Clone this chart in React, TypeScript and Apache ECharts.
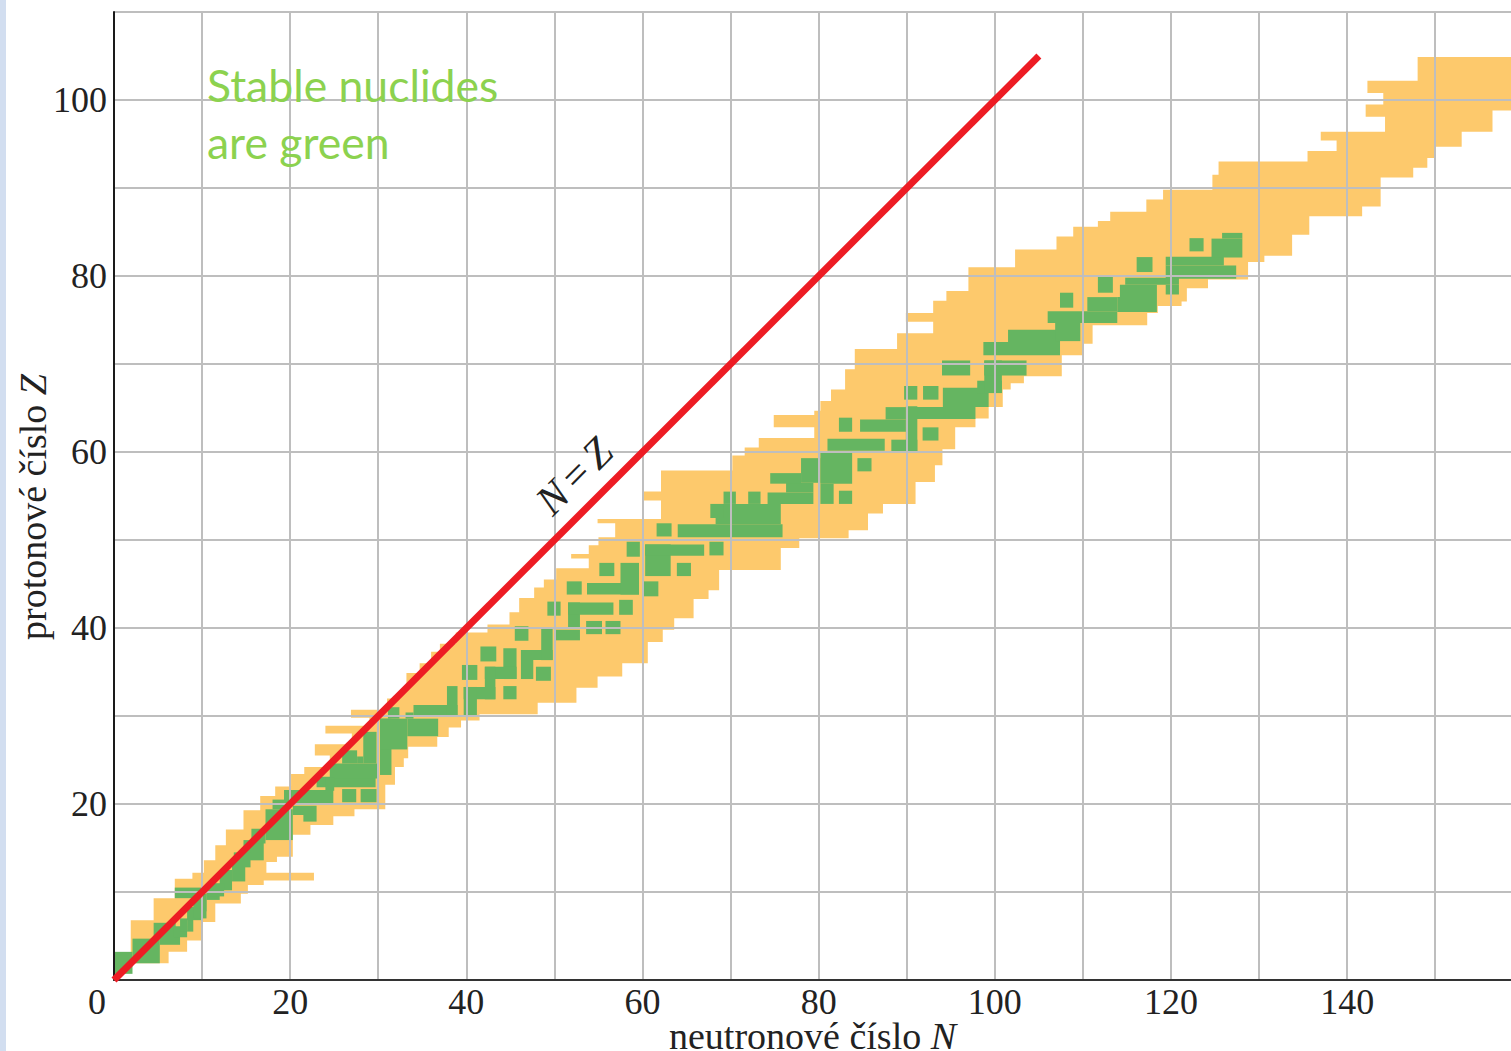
import React, { useEffect, useRef } from "react";
import * as echarts from "echarts";

// Outline of the known-nuclide band, as [N, Z] vertices
const bandOutline: number[][] = [
  [1.9,1.9],[1.9,6.8],[4.5,6.8],[4.5,9.3],[6.9,9.3],[6.9,11.5],[8.9,11.5],[8.9,12.2],[10.2,12.2],[10.2,13.6],[11.5,13.6],[11.5,15.3],[12.7,15.3],[12.7,17.1],[14.7,17.1],[14.7,19.3],[16.6,19.3],[16.6,20.9],[18.3,20.9],[18.3,22],[20.1,22],[20.1,23.4],[21.6,23.4],[21.6,24.2],[24.5,24.2],[24.5,25.5],[22.8,25.5],[22.8,26.8],[27,26.8],[27,28],[24,28],[24,28.9],[29,28.9],[29,29.8],[26.9,29.8],[26.9,30.7],[31,30.7],[31,32],[32.5,32],[32.5,33],[33.2,33],[33.2,34.9],[34.7,34.9],[34.7,36],[36,36],[36,37.3],[37,37.3],[37,38.2],[38.8,38.2],[38.8,39.5],[42.4,39.5],[42.4,40.4],[44.9,40.4],[44.9,41.8],[46,41.8],[46,43.4],[47.7,43.4],[47.7,44.6],[48.8,44.6],[48.8,45.5],[50.2,45.5],[50.2,46.8],[53.9,46.8],[53.9,47.9],[51.9,47.9],[51.9,48.4],[53.9,48.4],[53.9,49.4],[55,49.4],[55,50.3],[56.9,50.3],[56.9,51.9],[54.9,51.9],[54.9,52.4],[62.1,52.4],[62.1,54.5],[60,54.5],[60,55.5],[62.1,55.5],[62.1,57.9],[70.2,57.9],[70.2,59.6],[71.6,59.6],[71.6,60.5],[73.2,60.5],[73.2,61.6],[79.5,61.6],[79.5,62.8],[74.9,62.8],[74.9,64.2],[79.5,64.2],[79.5,64.7],[80.2,64.7],[80.2,65.8],[81.4,65.8],[81.4,67.1],[83,67.1],[83,69.4],[84.1,69.4],[84.1,71.7],[88.9,71.7],[88.9,73.5],[93,73.5],[93,74.8],[89.9,74.8],[89.9,75.8],[93,75.8],[93,77.2],[94.5,77.2],[94.5,78.3],[97,78.3],[97,81],[102.3,81],[102.3,83],[107,83],[107,84.5],[108.9,84.5],[108.9,85.6],[111.7,85.6],[111.7,86.25],[113.1,86.25],[113.1,87.3],[117.2,87.3],[117.2,88.7],[119.1,88.7],[119.1,89.8],[124.7,89.8],[124.7,91.5],[125.4,91.5],[125.4,93],[135.5,93],[135.5,94.2],[138.8,94.2],[138.8,95.4],[137,95.4],[137,96.4],[144.3,96.4],[144.3,98.1],[142.1,98.1],[142.1,99.5],[144.1,99.5],[144.1,100.8],[142.3,100.8],[142.3,102.2],[148,102.2],[148,104.9],[158.6,104.9],
  [158.6,98.8],[156.5,98.8],[156.5,96.4],[153,96.4],[153,94.7],[150,94.7],[150,93.4],[149.1,93.4],[149.1,92.3],[147.5,92.3],[147.5,91.2],[143.8,91.2],[143.8,87.9],[141.7,87.9],[141.7,86.8],[135.7,86.8],[135.7,84.7],[133.75,84.7],[133.75,82.3],[130.6,82.3],[130.6,81.6],[128.75,81.6],[128.75,79.6],[124.2,79.6],[124.2,78.6],[121.8,78.6],[121.8,77.1],[121.2,77.1],[121.2,76.6],[118.5,76.6],[118.5,75.8],[117.3,75.8],[117.3,74.4],[111.1,74.4],[111.1,72.3],[110,72.3],[110,71],[107.6,71],[107.6,68.6],[103.3,68.6],[103.3,67.8],[101.8,67.8],[101.8,67.1],[100.9,67.1],[100.9,65.1],[99.3,65.1],[99.3,63.8],[97.8,63.8],[97.8,62.8],[95.5,62.8],[95.5,60.3],[94.05,60.3],[94.05,58.5],[93.2,58.5],[93.2,56.6],[91,56.6],[91,54.1],[87.3,54.1],[87.3,53],[85.6,53],[85.6,51.1],[83.4,51.1],[83.4,50.2],[77.8,50.2],[77.8,49.1],[75.7,49.1],[75.7,46.6],[68.7,46.6],[68.7,44.3],[67.5,44.3],[67.5,43.3],[65.8,43.3],[65.8,41.1],[63.6,41.1],[63.6,39.8],[62.3,39.8],[62.3,38.4],[60.6,38.4],[60.6,36],[57.7,36],[57.7,34.5],[54.9,34.5],[54.9,33.2],[52.5,33.2],[52.5,31.5],[48.1,31.5],[48.1,30.2],[41.5,30.2],[41.5,29.5],[39.4,29.5],[39.4,28.7],[38,28.7],[38,27.6],[36.7,27.6],[36.7,26.5],[33.4,26.5],[33.4,25.2],[32.9,25.2],[32.9,24.2],[31.9,24.2],[31.9,22.2],[30.8,22.2],[30.8,19.4],[27.3,19.4],[27.3,18.6],[24.9,18.6],[24.9,17.6],[22.3,17.6],[22.3,16.5],[20.3,16.5],[20.3,14],[18.5,14],[18.5,13.4],[17.3,13.4],[17.3,12.2],[22.7,12.2],[22.7,11.3],[17,11.3],[17,10.8],[15.2,10.8],[15.2,9.8],[14.4,9.8],[14.4,8.7],[11.5,8.7],[11.5,6.6],[10,6.6],[10,4.5],[8.3,4.5],[8.3,3.2],[6.2,3.2],[6.2,1.9],
];

// Stable-nuclide blocks: [N from, N to, Z from, Z to]
const stableLow: number[][] = [
  [0,2.1,0.7,3.2],[2.1,5.2,1.9,4.7],[5.2,7.5,4,5.5],[4.5,7,5,6.5],[6.7,8.3,4.85,6.1],[7.5,8.3,5.5,7],[8.3,9,5.5,7],[8.3,10,6.8,8.3],[10,10.5,7.8,9.8],[10.5,12,9.1,9.8],[9,10.5,7,9.5],[6.9,10.2,9.3,10.5],
  [12,13.4,10.2,12.5],[10.5,12.5,9.5,11],[13.4,14.9,11.2,13.3],[14.7,17,13.6,15.9],[13.6,15.5,12.8,14.5],[15.6,17.2,15.5,17.2],[17.2,20.3,15.9,19.4],[18,19.5,19.4,20.5],[20.3,23,18.75,19.8],[21.5,23,18,18.75],[19.3,24.9,19.9,21.6],[23,29.7,21.9,23.1],[24.5,30,22.9,24.6],[24,25,21.5,23],[25.9,27.6,24.6,26.1],[27.6,28.3,24.6,25.4],[28.3,29.8,24.6,28.2],[25.9,27.5,20.2,21.7],[28,29.8,20.2,21.7],
  [30.2,31.5,23.3,29.7],[30.2,33.3,26.2,29.7],[33.3,36.8,27.7,29.7],[31.1,32.4,29.7,31],[34,39,30,31.25],[33.1,34,29.7,30.4],[37.8,39,30,33.4],
];
const stableMid: number[][] = [
  [39.5,41.25,34.1,35.8],[41.6,43.4,36.2,37.9],[45.5,47.05,38.55,40.2],[44.2,45.7,34.2,37.7],[42.1,45.7,34.2,35.6],[42.1,43.3,31.9,35.6],[39.7,43.3,31.9,33.3],[39.7,41.2,29.9,33.3],[44.2,45.7,31.9,33.4],
  [46.2,47.6,34.2,37.5],[46.2,49.8,36.35,37.5],[48.5,49.8,36.35,39.9],[47.9,49.6,34,35.6],[50,52.9,38.6,39.8],[49.2,50.7,41.4,43],[51.55,52.9,40.1,42.9],[51.55,56.7,41.5,42.9],[53.6,55.4,39.3,40.8],[55.8,57.5,39.3,40.8],[57.35,58.9,41.5,43.2],[51.4,53.1,43.8,45.3],[53.7,59.6,43.8,45.1],[57.5,59.6,43.8,47.4],[55.1,56.8,45.9,47.4],[60,61.8,43.6,45.3],[60.3,63.2,45.9,49.5],[60.3,67,48.2,49.5],[63.9,65.5,45.9,47.4],[58.2,59.7,48.1,49.8],[61.6,63.3,50.4,51.9],[67.6,69.2,48.25,49.8],
  [64,75.9,50.3,51.8],[68.3,75.7,51.8,54.1],[67.7,69.2,52.5,54.1],[69.2,70.6,54.1,55.5],[72,73.4,54.1,55.5],[74.2,79.4,54.1,55.4],[76.3,79.4,55.4,56.5],[74.5,78,56.4,57.6],[78,80.2,56.5,59.3],[80.2,83.8,56.4,60],[80.2,81.7,54.1,56.4],[82.3,83.8,54.1,55.6],[84.4,86,57.8,59.3],[81,87.5,60.15,61.5],[88.25,91.2,60.1,61.4],[89.9,91.2,60.1,65.2],[84.7,89.9,62.3,63.7],[87.6,89.9,63.7,65.1],[89.9,97.8,63.75,65.1],[91.8,93.6,61.3,62.8],[82.3,83.8,62.3,63.9],
];
const stableHigh: number[][] = [
  [94.1,99.3,65.1,67.3],[98,100.8,66.7,68.1],[98.8,100.8,66.7,70.4],[98.8,103.6,68.7,70.4],[89.7,91.2,65.95,67.5],[91.85,93.6,65.95,67.5],[94,97.2,68.7,70.4],[98.7,107.4,71,72.5],[101.5,107.4,72.5,73.9],[106.85,109.7,72.6,75.3],[106,113.9,74.65,76],[110.5,113.9,76,77.6],[113.9,118.4,75.9,77.6],[114.2,118.4,77.6,79],[114.8,120.9,79,79.8],[119.4,120.9,77.9,79],[119.4,127.4,79.7,81.2],[119.4,126,81.2,82.2],[124.6,128.1,82.1,84.25],[125.8,128.1,84.25,84.9],[122.1,123.7,82.8,84.3],[116.1,117.9,80.45,82.15],[111.7,113.4,78.1,79.9],[107.4,108.9,76.4,78.1],
];
const stableCells = [...stableLow, ...stableMid, ...stableHigh];

// The N = Z line
const nEqualsZ: number[][] = [[0,0],[105,105]];

const serif = "'Liberation Serif', 'Times New Roman', serif";
const ink = "#222222";
const xLabelLimit = 140;
const yLabelLimit = 100;

export default function App() {
  const ref = useRef<HTMLDivElement>(null);
  useEffect(() => {
    const chart = echarts.init(ref.current!, undefined, { renderer: "svg" });
    chart.setOption({
      animation: false,
      backgroundColor: "#ffffff",
      grid: { left: 114, top: 12, width: 1397, height: 968, containLabel: false, outerBoundsMode: "none" },
      xAxis: {
        type: "value", min: 0, max: 158.6, interval: 10, z: 3,
        name: "neutronové číslo {i|N}",
        nameLocation: "middle", nameGap: 37, nameMoveOverlap: false,
        nameTextStyle: {
          fontFamily: serif, fontSize: 38, color: ink,
          rich: { i: { fontFamily: serif, fontSize: 38, fontStyle: "italic", color: ink } },
        },
        axisLine: { show: true, onZero: false, lineStyle: { color: "#333333", width: 2 } },
        axisTick: { show: false },
        axisLabel: {
          fontFamily: serif, fontSize: 36, color: ink, margin: 4, showMaxLabel: false,
          formatter: (v: number) => (v > 0 && v % 20 === 0 && v <= xLabelLimit ? String(v) : ""),
        },
        splitLine: { show: true, showMinLine: false, showMaxLine: false, lineStyle: { color: "#BEBEBE", width: 2 } },
      },
      yAxis: {
        type: "value", min: 0, max: 110, interval: 10, z: 3,
        name: "protonové číslo {i|Z}",
        nameLocation: "middle", nameGap: 62, nameMoveOverlap: false,
        nameTextStyle: {
          fontFamily: serif, fontSize: 38, color: ink, padding: [0, 22, 0, 0],
          rich: { i: { fontFamily: serif, fontSize: 38, fontStyle: "italic", color: ink } },
        },
        axisLine: { show: true, onZero: false, lineStyle: { color: "#1a1a1a", width: 2 } },
        axisTick: { show: false },
        axisLabel: {
          fontFamily: serif, fontSize: 36, color: ink, margin: 7,
          formatter: (v: number) => (v > 0 && v % 20 === 0 && v <= yLabelLimit ? String(v) : ""),
        },
        splitLine: { show: true, showMinLine: false, lineStyle: { color: "#BEBEBE", width: 2 } },
      },
      series: [
        {
          type: "custom", name: "Known nuclides", z: 1, clip: true, silent: true,
          data: bandOutline, encode: { x: 0, y: 1 },
          renderItem: (params: any, api: any) => {
            if (params.dataIndex !== 0) return null;
            return {
              type: "polygon",
              shape: { points: bandOutline.map((p) => api.coord(p)) },
              style: { fill: "#FDC96C", stroke: null },
            };
          },
        },
        {
          type: "custom", name: "Stable nuclides", z: 2, clip: true, silent: true,
          data: stableCells, encode: { x: [0, 1], y: [2, 3] },
          renderItem: (_: any, api: any) => {
            const a = api.coord([api.value(0), api.value(3)]);
            const b = api.coord([api.value(1), api.value(2)]);
            return {
              type: "rect",
              shape: { x: a[0], y: a[1], width: b[0] - a[0], height: b[1] - a[1] },
              style: { fill: "#65B561", stroke: null },
            };
          },
        },
        {
          type: "line", name: "N = Z", z: 5, data: nEqualsZ, symbol: "none", clip: true, silent: true,
          lineStyle: { color: "#ED1C24", width: 7, cap: "butt" },
        },
      ],
      graphic: [
        { type: "rect", left: 0, top: 0, shape: { width: 6, height: 1051 }, style: { fill: "#D2DEF0" }, silent: true },
        { type: "text", x: 97, y: 1002, style: { text: "0", font: `36px ${serif}`, fill: ink, align: "center", verticalAlign: "middle" }, silent: true },
        {
          type: "text", x: 574, y: 476, rotation: Math.PI / 4, z: 10,
          style: {
            text: "{i|N}\u00a0\u00a0{r|=}\u00a0\u00a0{i|Z}", align: "center", verticalAlign: "middle", fill: ink,
            rich: {
              i: { font: `italic 42px ${serif}`, fill: ink },
              r: { font: `42px ${serif}`, fill: ink },
            },
          },
          silent: true,
        },
        { type: "text", x: 207, y: 84, z: 10, style: { text: "Stable nuclides", font: "44.5px Lato, 'Open Sans', sans-serif", fill: "#8CD24F", verticalAlign: "middle" }, silent: true },
        { type: "text", x: 207, y: 141, z: 10, style: { text: "are green", font: "44.5px Lato, 'Open Sans', sans-serif", fill: "#8CD24F", verticalAlign: "middle" }, silent: true },
      ],
    });
    return () => chart.dispose();
  }, []);
  return <div ref={ref} style={{ position: "fixed", left: 0, top: 0, width: 1511, height: 1051 }} />;
}
